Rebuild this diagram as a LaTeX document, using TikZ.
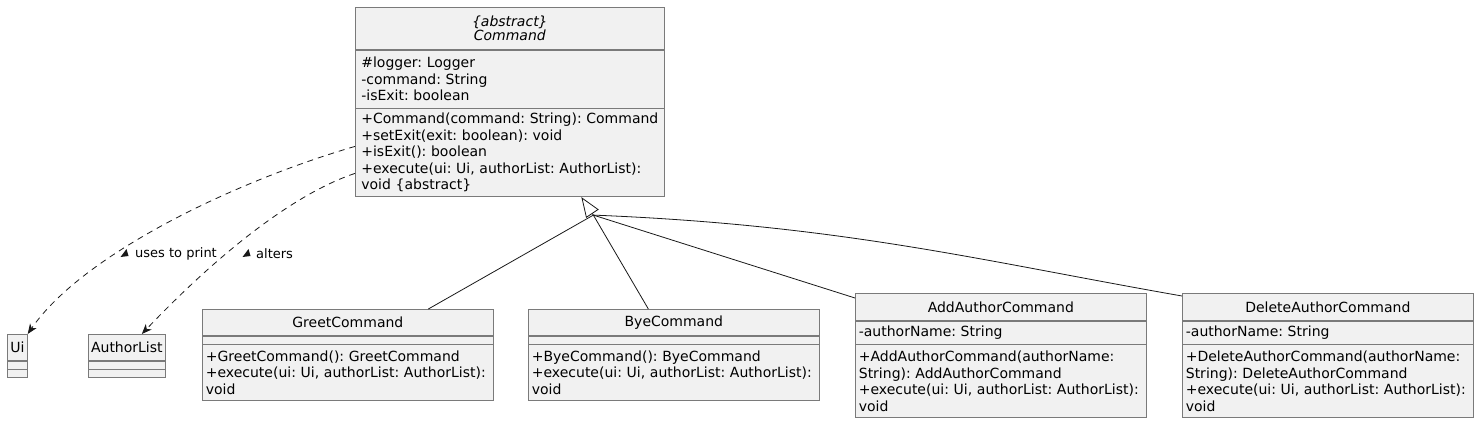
\documentclass[tikz,border=0pt]{standalone}
\usepackage{fontspec}
\setmainfont{DejaVu Sans}
\usetikzlibrary{positioning,arrows.meta,calc}
\frenchspacing
\hyphenpenalty=10000
\definecolor{umlfill}{HTML}{F1F1F1}
\definecolor{umlline}{HTML}{7A7A7A}
\definecolor{umlink}{HTML}{181818}
\tikzset{compart/.style={draw=umlline, fill=umlfill, line width=0.7pt,
        inner ysep=0pt, anchor=north west, font=\fontsize{14}{16.5}\selectfont},
    titlepart/.style={compart, align=center},
    bodypart/.style={compart, align=left},
    wide/.style={text width=284pt, inner xsep=3.5pt, minimum width=291pt},
    gen/.style={draw=umlink, line width=0.8pt},
    dep/.style={draw=umlink, line width=0.8pt, dash pattern=on 6pt off 5pt,
        -{Stealth[length=10pt,width=8pt,inset=3pt]}},
    linklabel/.style={font=\fontsize{13}{15}\selectfont, inner sep=1pt},
    }
\newcommand{\dirmark}[1]{\fill[umlink] ($(#1)+(-4.5,3)$) -- ($(#1)+(3.5,2)$) -- ($(#1)+(1.5,-5)$) -- cycle;}

\begin{document}
\begin{tikzpicture}[x=1pt,y=-1pt]
\useasboundingbox (0,0) rectangle (1479,422);
%abstract class
\node[titlepart, text width=297pt, inner xsep=6pt, minimum width=309pt, minimum height=42pt,
    font=\fontsize{14}{14}\selectfont\itshape] (cmdT) at (355,7) {\{abstract\}\\Command};
\node[bodypart, text width=297pt, inner xsep=6pt, minimum width=309pt, minimum height=58pt]
    (cmdA) at (cmdT.south west) {\#logger: Logger\\-command: String\\-isExit: boolean};
\node[bodypart, text width=297pt, inner xsep=6pt, minimum width=309pt, minimum height=88pt]
    (cmdM) at (cmdA.south west) {+Command(command: String): Command\\+setExit(exit: boolean): void\\
    +isExit(): boolean\\+execute(ui: Ui, authorList: AuthorList):\\void \{abstract\}};
%used classes
\node[titlepart, text width=16pt, inner xsep=2pt, minimum width=20pt, minimum height=26pt] (uiT) at (7,334) {Ui};
\node[bodypart, text width=16pt, inner xsep=2pt, minimum width=20pt, minimum height=8pt] (uiA) at (uiT.south west) {};
\node[bodypart, text width=16pt, inner xsep=2pt, minimum width=20pt, minimum height=8pt] (uiM) at (uiA.south west) {};
\node[titlepart, text width=73pt, inner xsep=2pt, minimum width=77pt, minimum height=26pt] (alT) at (88,334) {AuthorList};
\node[bodypart, text width=73pt, inner xsep=2pt, minimum width=77pt, minimum height=8pt] (alA) at (alT.south west) {};
\node[bodypart, text width=73pt, inner xsep=2pt, minimum width=77pt, minimum height=8pt] (alM) at (alA.south west) {};
%subclasses
\node[titlepart, wide, minimum height=26pt] (greetT) at (202,309) {GreetCommand};
\node[bodypart, wide, minimum height=8pt] (greetA) at (greetT.south west) {};
\node[bodypart, wide, minimum height=56pt] (greetM) at (greetA.south west)
    {+GreetCommand(): GreetCommand\\+execute(ui: Ui, authorList: AuthorList):\\void};
\node[titlepart, wide, minimum height=26pt] (byeT) at (528,309) {ByeCommand};
\node[bodypart, wide, minimum height=8pt] (byeA) at (byeT.south west) {};
\node[bodypart, wide, minimum height=56pt] (byeM) at (byeA.south west)
    {+ByeCommand(): ByeCommand\\+execute(ui: Ui, authorList: AuthorList):\\void};
\node[titlepart, wide, minimum height=27pt] (addT) at (855,293) {AddAuthorCommand};
\node[bodypart, wide, minimum height=23pt] (addA) at (addT.south west) {-authorName: String};
\node[bodypart, wide, minimum height=73pt] (addM) at (addA.south west)
    {+AddAuthorCommand(authorName:\\String): AddAuthorCommand\\+execute(ui: Ui, authorList: AuthorList):\\void};
\node[titlepart, wide, minimum height=27pt] (delT) at (1182,293) {DeleteAuthorCommand};
\node[bodypart, wide, minimum height=23pt] (delA) at (delT.south west) {-authorName: String};
\node[bodypart, wide, minimum height=73pt] (delM) at (delA.south west)
    {+DeleteAuthorCommand(authorName:\\String): DeleteAuthorCommand\\+execute(ui: Ui, authorList: AuthorList):\\void};
%inheritance
\coordinate (gtip) at ($(cmdM.south)+(71.5,0)$);
\coordinate (gjoin) at ($(gtip)+(12,18)$);
\draw[gen, -{Triangle[open,length=20pt,width=15pt]}] (gjoin) -- (gtip);
\draw[gen] ($(greetT.north)+(80.5,0)$) -- (gjoin);
\draw[gen] ($(byeT.north)+(-25.5,0)$) -- (gjoin);
\draw[gen] ($(addT.north west)+(0,5)$) -- (gjoin);
\draw[gen] ($(delT.north west)+(0,3)$) .. controls +(-200,-35) and +(250,10) .. (gjoin);
%dependencies
\draw[dep] ($(cmdM.north west)+(0,38)$) .. controls +(-120,35) and +(55,-80) .. (uiT.north east);
\draw[dep] ($(cmdM.north west)+(0,65)$) .. controls +(-60,20) and +(78,-82) .. ($(alT.north)+(15,0)$);
\coordinate (usesMark) at (125,254);
\dirmark{usesMark}
\node[linklabel, anchor=west, right=9pt of usesMark] (usesLbl) {uses to print};
\coordinate (altersMark) at (247,254);
\dirmark{altersMark}
\node[linklabel, anchor=west, right=8pt of altersMark] (altersLbl) {alters};
\end{tikzpicture}
\end{document}
